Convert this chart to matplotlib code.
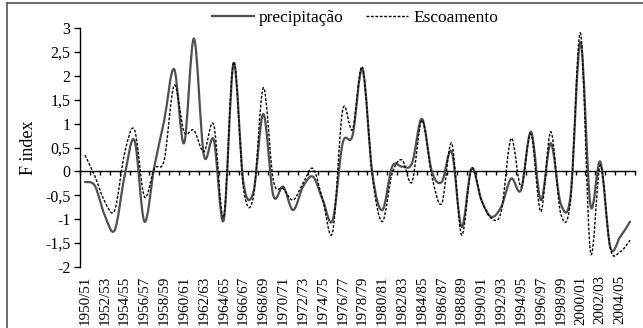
import numpy as np
import matplotlib.pyplot as plt
from matplotlib.path import Path
from matplotlib.patches import PathPatch
from matplotlib.lines import Line2D

plt.rcParams['font.family'] = ['Liberation Serif', 'DejaVu Serif']

# hydrological years 1950/51 .. 2005/06
seasons = [f"{y}/{str(y + 1)[2:]}" for y in range(1950, 2006)]

precipitacao = [-0.22, -0.30, -0.92, -1.23, -0.10, 0.65, -1.05, 0.10, 1.07, 2.14,
                0.59, 2.78, 0.34, 0.66, -1.02, 2.26, -0.25, -0.43, 1.20, -0.50,
                -0.32, -0.81, -0.32, -0.11, -0.60, -1.02, 0.59, 0.75, 2.14, -0.05,
                -0.81, 0.10, 0.10, 0.17, 1.10, 0.00, -0.22, 0.41, -1.16, 0.06,
                -0.60, -0.95, -0.74, -0.15, -0.39, 0.83, -0.60, 0.59, -0.67, -0.50,
                2.71, -0.70, 0.20, -1.58, -1.37, -1.05]

escoamento = [0.34, -0.10, -0.63, -0.81, 0.38, 0.87, -0.53, 0.06, 0.24, 1.80,
              0.83, 0.86, 0.41, 0.97, -0.95, 2.29, -0.36, -0.53, 1.75, -0.18,
              -0.36, -0.60, -0.25, 0.06, -0.60, -1.26, 1.28, 0.88, 2.18, -0.10,
              -1.05, -0.04, 0.24, -0.22, 1.07, -0.10, -0.67, 0.59, -1.33, 0.06,
              -0.60, -0.98, -0.84, 0.69, -0.32, 0.78, -0.84, 0.83, -0.88, -0.60,
              2.89, -1.68, 0.13, -1.61, -1.68, -1.44]


def smooth_path(x, y):
    # Excel-style smoothed line (Catmull-Rom as cubic Bezier)
    x = np.asarray(x, float)
    y = np.asarray(y, float)
    xp = np.r_[x[0], x, x[-1]]
    yp = np.r_[y[0], y, y[-1]]
    verts = [(x[0], y[0])]
    codes = [Path.MOVETO]
    for i in range(len(x) - 1):
        c1 = (x[i] + (xp[i + 2] - xp[i]) / 6, y[i] + (yp[i + 2] - yp[i]) / 6)
        c2 = (x[i + 1] - (xp[i + 3] - xp[i + 1]) / 6, y[i + 1] - (yp[i + 3] - yp[i + 1]) / 6)
        verts += [c1, c2, (x[i + 1], y[i + 1])]
        codes += [Path.CURVE4] * 3
    return Path(verts, codes)


fig = plt.figure(figsize=(6.43, 3.28), dpi=100)
ax = fig.add_axes([0.1244, 0.186, 0.8632, 0.7286])

xs = np.arange(len(seasons))
solid_style = dict(color='#505050', lw=1.6)
dash_style = dict(color='black', lw=1.0, linestyle=(0, (2, 1.2)))

ax.add_patch(PathPatch(smooth_path(xs, precipitacao), fill=False, edgecolor=solid_style['color'],
                       lw=solid_style['lw'], capstyle='round', joinstyle='round'))
ax.add_patch(PathPatch(smooth_path(xs, escoamento), fill=False, edgecolor=dash_style['color'],
                       lw=dash_style['lw'], linestyle=dash_style['linestyle']))

ax.set_xlim(-0.5, len(seasons) - 0.5)
ax.set_ylim(-2, 3)

for s in ['top', 'right', 'bottom']:
    ax.spines[s].set_visible(False)
ax.spines['left'].set_linewidth(1.0)

yt = np.arange(-2, 3.01, 0.5)
ax.set_yticks(yt)
ax.set_yticklabels([f"{v:g}".replace('.', ',') for v in yt], fontsize=11.5)
ax.tick_params(axis='y', length=4, width=1, direction='out', pad=3)
ax.set_ylabel('F index', fontsize=13, labelpad=6)

ax.set_xticks(xs[::2])
ax.set_xticklabels(seasons[::2], rotation=90, fontsize=10.8)
ax.tick_params(axis='x', length=0, pad=6)

# horizontal axis line at zero with category tick marks
sec = ax.secondary_xaxis(0.4)
sec.set_xticks(np.arange(-0.5, len(seasons), 1))
sec.tick_params(axis='x', which='both', bottom=True, top=False, labelbottom=False,
                labeltop=False, length=3, width=1, direction='out')
for s in ['top', 'left', 'right']:
    sec.spines[s].set_visible(False)
sec.spines['bottom'].set_linewidth(1.0)

handles = [Line2D([], [], **solid_style), Line2D([], [], **dash_style)]
fig.legend(handles, ['precipitação', 'Escoamento'], loc='center', bbox_to_anchor=(0.552, 0.945),
           ncol=2, frameon=False, handlelength=2.4, columnspacing=1.3, handletextpad=0.3,
           fontsize=12.5, borderpad=0)

# frame of the original figure (left and top edges visible)
fig.add_artist(Line2D([7 / 643, 7 / 643], [0, 1 - 3 / 328], transform=fig.transFigure, color='#555555', lw=1.2))
fig.add_artist(Line2D([7 / 643, 1], [1 - 3 / 328, 1 - 3 / 328], transform=fig.transFigure, color='#555555', lw=1.2))

fig.savefig('out.png', dpi=100)
